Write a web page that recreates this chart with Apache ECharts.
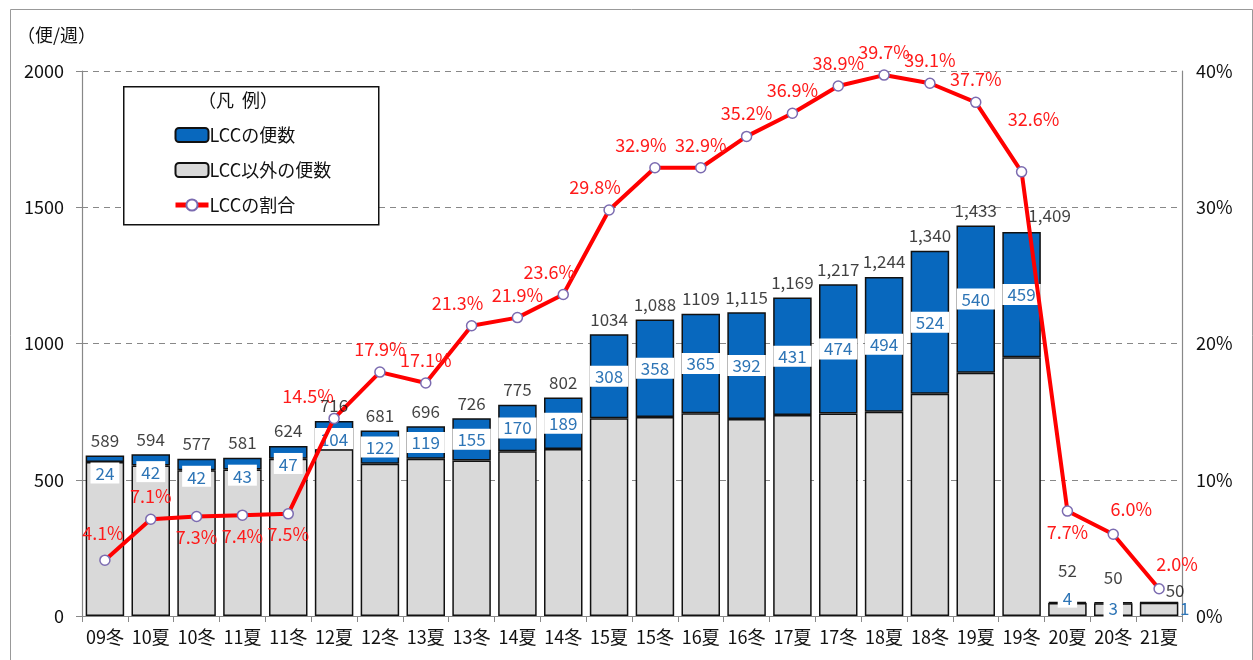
<!DOCTYPE html>
<html>
<head>
<meta charset="utf-8">
<script src="https://cdn.jsdelivr.net/npm/echarts@6/dist/echarts.min.js"></script>
<style>
  html, body { margin: 0; padding: 0; background: #fff; }
  #chart { width: 1253px; height: 660px; }
</style>
</head>
<body>
<div id="chart"></div>
<script>
// 期間（夏ダイヤ・冬ダイヤ）
const seasons = ['09冬', '10夏', '10冬', '11夏', '11冬', '12夏', '12冬', '13夏', '13冬', '14夏', '14冬',
  '15夏', '15冬', '16夏', '16冬', '17夏', '17冬', '18夏', '18冬', '19夏', '19冬', '20夏', '20冬', '21夏']
// 総便数（便/週）
const totalFlights = [589, 594, 577, 581, 624, 716, 681, 696, 726, 775, 802,
  1034, 1088, 1109, 1115, 1169, 1217, 1244, 1340, 1433, 1409, 52, 50, 50]
// 総便数ラベル（元資料の表記のまま）
const totalLabels = ['589', '594', '577', '581', '624', '716', '681', '696', '726', '775', '802',
  '1034', '1,088', '1109', '1,115', '1,169', '1,217', '1,244', '1,340', '1,433', '1,409', '52', '50', '50']
// LCCの便数
const lccFlights = [24, 42, 42, 43, 47, 104, 122, 119, 155, 170, 189,
  308, 358, 365, 392, 431, 474, 494, 524, 540, 459, 4, 3, 1]
// LCCの割合（%）
const lccShare = [4.1, 7.1, 7.3, 7.4, 7.5, 14.5, 17.9, 17.1, 21.3, 21.9, 23.6,
  29.8, 32.9, 32.9, 35.2, 36.9, 38.9, 39.7, 39.1, 37.7, 32.6, 7.7, 6.0, 2.0]
const leftTicks = [0, 500, 1000, 1500, 2000]

const otherFlights = totalFlights.map((t, i) => t - lccFlights[i])

const FONT = '"Noto Sans CJK JP", "Noto Sans", sans-serif'
const BLUE = '#0868BE'
const GRAY = '#D9D9D9'

const chart = echarts.init(document.getElementById('chart'))

// LCC便数ラベル：小さいバーは上寄せ
const lccData = lccFlights.map((v, i) => {
  let label = {}
  if (i === 21) label = { position: 'top', distance: -6 }
  else if (i === 22) label = { position: 'top', distance: -16 }
  else if (i === 23) label = { position: 'right', distance: 0, offset: [-4, 6], backgroundColor: 'transparent' }
  else if (v < 110) label = { position: 'insideTop', distance: 7 }
  return { value: v, label }
})

// 割合ラベルの位置
const below = [2, 3, 4, 21]
const shareData = lccShare.map((v, i) => {
  let label = {}
  if (below.includes(i)) label = { position: 'bottom', distance: 6 }
  else if (i === 5) label = { position: 'top', offset: [-26, 0] }
  else if (i === 20) label = { position: 'top', offset: [12, -30] }
  else if (i === 22 || i === 23) label = { position: 'top', offset: [18, -2] }
  else if (i === 0) label = { position: 'top', offset: [-2, -4] }
  else if (i >= 8 && i <= 12 && i !== 9) label = { position: 'top', offset: [-14, 0] }
  return { value: v, label }
})

const totalData = totalFlights.map((v, i) => {
  let label = {}
  if (i === 20) label = { offset: [28, -2] }
  if (i === 21) label = { distance: 22 }
  if (i === 22) label = { distance: 16 }
  if (i === 23) label = { offset: [16, 3] }
  return { value: v, label }
})

chart.setOption({
  backgroundColor: '#fff',
  animation: false,
  textStyle: { fontFamily: FONT },
  grid: { left: 82, right: 71, top: 71, bottom: 44, containLabel: false },
  legend: {
    left: 168,
    top: 121,
    z: 20,
    orient: 'vertical',
    itemWidth: 33,
    itemHeight: 14,
    itemGap: 17,
    textStyle: { fontSize: 18, color: '#111', fontFamily: FONT, padding: [0, 0, 0, -4] },
    data: [
      'LCCの便数',
      'LCC以外の便数',
      { name: 'LCCの割合', lineStyle: { width: 5, color: '#FF0000' } }
    ]
  },
  graphic: [
    {
      type: 'rect', left: 8, top: 7, z: 0,
      shape: { width: 1242, height: 660 },
      style: { fill: 'none', stroke: '#999', lineWidth: 1 }, silent: true
    },
    {
      type: 'rect', left: 123, top: 86, z: 1,
      shape: { width: 255, height: 138 },
      style: { fill: '#fff', stroke: '#111', lineWidth: 1.5 }
    },
    {
      type: 'text', left: 198, top: 91, z: 2,
      style: { text: '（凡  例）', fontSize: 18, fill: '#111', fontFamily: FONT }
    }
  ],
  xAxis: {
    type: 'category',
    data: seasons,
    axisLine: { lineStyle: { color: '#888', width: 1.2 } },
    axisTick: { show: true, interval: 0, length: 6, lineStyle: { color: '#888' } },
    axisLabel: { fontSize: 18, color: '#111', margin: 12, interval: 0 }
  },
  yAxis: [
    {
      type: 'value', min: 0, max: 2000, interval: 500,
      name: '（便/週）',
      nameGap: 27,
      nameTextStyle: { fontSize: 18, color: '#111', align: 'right', padding: [0, -14, 0, 0] },
      axisLine: { show: true, lineStyle: { color: '#888', width: 1.2 } },
      axisTick: { show: true, length: 6, lineStyle: { color: '#888' } },
      axisLabel: {
        fontSize: 18, color: '#111', margin: 18,
        formatter: v => leftTicks.includes(v) ? String(v) : ''
      },
      splitLine: { lineStyle: { color: '#888', type: [6, 5], width: 1.2 } }
    },
    {
      type: 'value', min: 0, max: 40, interval: 10,
      axisLine: { show: true, lineStyle: { color: '#888', width: 1.2 } },
      axisTick: { show: false },
      axisLabel: { fontSize: 18, color: '#111', margin: 14, formatter: '{value}%' },
      splitLine: { show: false }
    }
  ],
  series: [
    {
      name: 'LCC以外の便数',
      type: 'bar',
      stack: 'flights',
      data: otherFlights,
      barCategoryGap: '16%',
      itemStyle: { color: GRAY, borderColor: '#111', borderWidth: 1.5 }
    },
    {
      name: 'LCCの便数',
      type: 'bar',
      stack: 'flights',
      data: lccData,
      itemStyle: { color: BLUE, borderColor: '#111', borderWidth: 1.5 },
      label: {
        show: true,
        position: 'inside',
        color: '#2E75B6',
        fontSize: 17,
        backgroundColor: '#fff',
        padding: [3, 5, 1, 5]
      }
    },
    {
      name: '総便数',
      type: 'scatter',
      data: totalData,
      symbolSize: 1,
      itemStyle: { color: 'rgba(0,0,0,0)' },
      label: {
        show: true,
        position: 'top',
        distance: 6,
        color: '#111',
        fontSize: 17,
        formatter: p => totalLabels[p.dataIndex]
      },
      z: 4
    },
    {
      name: 'LCCの割合',
      type: 'line',
      yAxisIndex: 1,
      data: shareData,
      symbol: 'circle',
      symbolSize: 10,
      lineStyle: { color: '#FF0000', width: 4 },
      itemStyle: { color: '#fff', borderColor: '#7B6BB0', borderWidth: 1.5 },
      label: {
        show: true,
        position: 'top',
        distance: 8,
        color: '#FF1A1A',
        fontSize: 18,
        formatter: p => p.value.toFixed(1) + '%'
      },
      z: 3
    }
  ]
})
</script>
</body>
</html>
